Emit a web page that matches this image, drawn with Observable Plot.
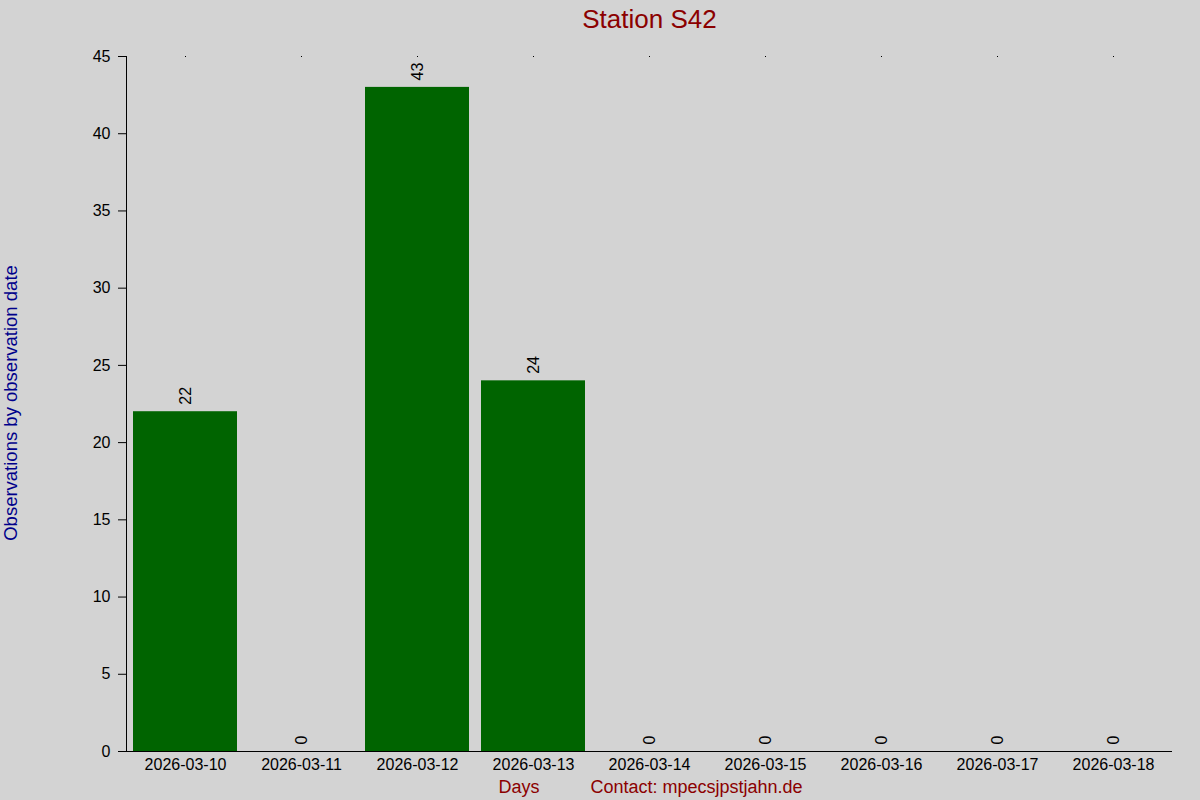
<!DOCTYPE html>
<html>
<head>
<meta charset="utf-8">
<script src="https://cdn.jsdelivr.net/npm/d3@7"></script>
<script src="https://cdn.jsdelivr.net/npm/@observablehq/plot@0.6"></script>
<style>
  html, body { margin: 0; padding: 0; background: #d3d3d3; }
  #chart svg { display: block; }
</style>
</head>
<body>
<div id="chart"></div>
<script>
const dates = ["2026-03-10","2026-03-11","2026-03-12","2026-03-13","2026-03-14","2026-03-15","2026-03-16","2026-03-17","2026-03-18"];
const counts = [22, 0, 43, 24, 0, 0, 0, 0, 0];
const yTicks = [0, 5, 10, 15, 20, 25, 30, 35, 40, 45];
const titleText = "Station S42";
const yLabelText = "Observations by observation date";
const xLabelText = "Days";
const contactText = "Contact: mpecsjpstjahn.de";

const data = dates.map((d, i) => ({date: d, count: counts[i]}));
const font = "'Liberation Sans', Arial, sans-serif";

const chart = Plot.plot({
  width: 1200,
  height: 800,
  marginLeft: 126,
  marginRight: 28,
  marginTop: 56,
  marginBottom: 49,
  style: {background: "#d3d3d3", color: "#000", fontFamily: font, fontSize: "16px"},
  x: {domain: dates, paddingInner: 0.1, paddingOuter: 0.05, label: null},
  y: {domain: [0, 45], label: null},
  marks: [
    Plot.barY(data, {x: "date", y: "count", fill: "#006400"}),
    Plot.text(data, {x: "date", y: "count", text: d => String(d.count), rotate: -90, textAnchor: "start", lineAnchor: "middle", dy: -7, fontSize: 16, fill: "#000"}),
    Plot.axisY({ticks: yTicks, tickSize: 8, tickPadding: 8, fontSize: 16, label: null}),
    Plot.axisX({anchor: "bottom", tickSize: 0, tickPadding: 7, fontSize: 16, label: null}),
    Plot.axisX({anchor: "top", tickSize: 1, tickFormat: () => "", label: null}),
    Plot.frame({anchor: "left", stroke: "#000"}),
    Plot.ruleY([0], {stroke: "#000"}),
    Plot.text([titleText], {frameAnchor: "top", lineAnchor: "bottom", dy: -29, fontSize: 26, fill: "#8b0000"}),
    Plot.text([yLabelText], {frameAnchor: "left", rotate: -90, lineAnchor: "middle", textAnchor: "middle", dx: -115, dy: -1, fontSize: 18.5, fill: "#00008b"}),
    Plot.text([xLabelText], {frameAnchor: "bottom-left", lineAnchor: "bottom", textAnchor: "start", dx: 372, dy: 41, fontSize: 18, fill: "#8b0000"}),
    Plot.text([contactText], {frameAnchor: "bottom-left", lineAnchor: "bottom", textAnchor: "start", dx: 464, dy: 41, fontSize: 18, fill: "#8b0000"})
  ]
});
document.getElementById("chart").appendChild(chart);
</script>
</body>
</html>
